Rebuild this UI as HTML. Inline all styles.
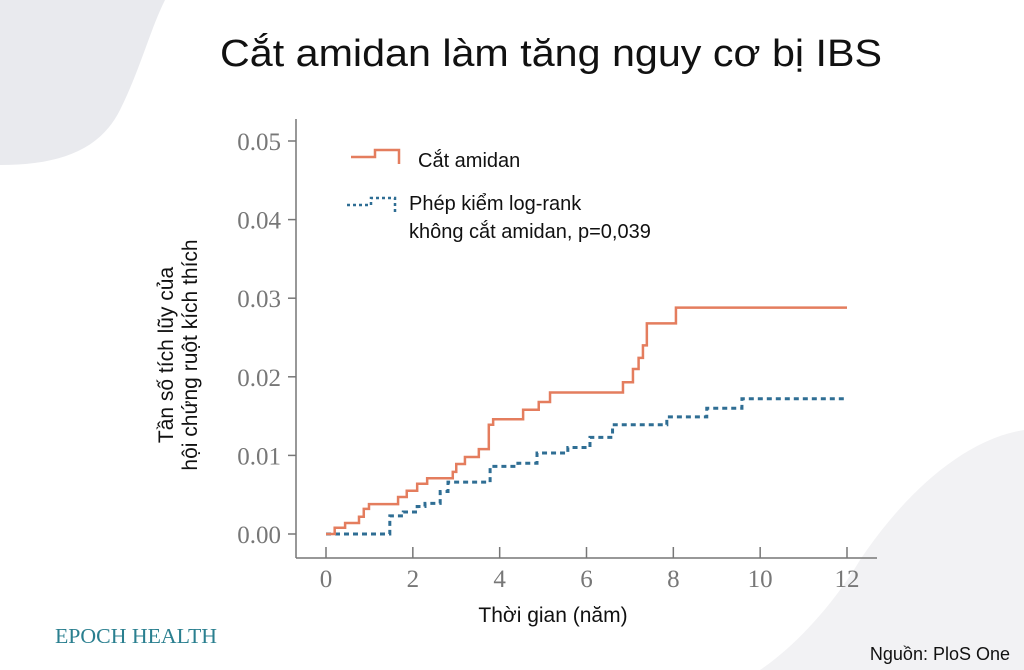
<!DOCTYPE html>
<html><head><meta charset="utf-8"><style>
body{margin:0;width:1024px;height:670px;overflow:hidden;background:#fff;font-family:"Liberation Sans",sans-serif}
svg{position:absolute;left:0;top:0}
</style></head><body>
<svg width="1024" height="670">
<path d="M0,0 L165,0 C150,30 140,70 120,110 C100,150 60,165 0,165 Z" fill="#e9eaee"/>
<path d="M1024,430 C960,440 900,500 860,560 C830,610 790,650 760,670 L1024,670 Z" fill="#f2f2f4"/>
<text x="220" y="66" textLength="662" lengthAdjust="spacingAndGlyphs" font-size="38" fill="#111">Cắt amidan làm tăng nguy cơ bị  IBS</text>
<g id="axes" stroke="#777" stroke-width="1.5" fill="none"></g>
<g id="ticks" font-family="Liberation Serif, serif" font-size="25" fill="#777"></g>
<g transform="translate(177,355) rotate(-90)" font-size="21" fill="#111" text-anchor="middle">
<text x="0" y="-4">Tần số  tích lũy của</text><text x="0" y="20">hội chứng ruột kích thích</text></g>
<text x="553" y="622" text-anchor="middle" font-size="21" fill="#111">Thời gian (năm)</text>
<g id="series"></g>
<path d="M351,157 L375,157 L375,150 L399,150 L399,164" stroke="#e47d5e" stroke-width="2.5" fill="none"/>
<text x="418" y="167" font-size="20" fill="#111">Cắt amidan</text>
<path d="M347,205 L371,205 L371,198 L395,198 L395,212" stroke="#2f6e94" stroke-width="2.5" stroke-dasharray="3,3" fill="none"/>
<text x="409" y="210" font-size="20" fill="#111">Phép kiểm  log-rank</text>
<text x="409" y="238" font-size="20" fill="#111">không cắt amidan, p=0,039</text>
<text x="55" y="643" textLength="162" lengthAdjust="spacingAndGlyphs" font-family="Liberation Serif, serif" font-size="21" fill="#2a7f8f">EPOCH HEALTH</text>
<text x="1010" y="660" text-anchor="end" font-size="18" fill="#111">Nguồn: PloS One</text>
</svg>
<script>
const xTicks=[0,2,4,6,8,10,12];
const yTicks=[0,0.01,0.02,0.03,0.04,0.05];
const yLabels=["0.00","0.01","0.02","0.03","0.04","0.05"];
const tonsilT=[0,0.2,0.44,0.76,0.87,0.99,1.66,1.86,2.1,2.33,2.92,3.0,3.2,3.52,3.75,3.85,4.54,4.9,5.16,6.84,7.07,7.2,7.3,7.39,8.06,12];
const tonsilV=[0,0.0008,0.0014,0.0022,0.0032,0.0038,0.0047,0.0055,0.0064,0.0071,0.0079,0.0089,0.0098,0.0108,0.0139,0.0146,0.0158,0.0168,0.018,0.0193,0.021,0.0224,0.024,0.0268,0.0288,0.0288];
const controlT=[0,1.13,1.47,1.78,2.1,2.28,2.63,2.81,3.78,4.42,4.86,5.57,6.08,6.6,7.85,8.77,9.58,12];
const controlV=[0,0,0.0023,0.0028,0.0035,0.0039,0.0054,0.0066,0.0086,0.009,0.0103,0.011,0.0123,0.0139,0.0149,0.016,0.0172,0.0172];
const X=t=>326+t*(847-326)/12, Y=v=>534-v*(534-141)/0.05;
const NS="http://www.w3.org/2000/svg";
function mk(tag,attrs,parent){const e=document.createElementNS(NS,tag);for(const k in attrs)e.setAttribute(k,attrs[k]);parent.appendChild(e);return e;}
const ax=document.getElementById('axes'),tk=document.getElementById('ticks'),se=document.getElementById('series');
let a=mk('line',{x1:296,y1:119,x2:296,y2:558},ax);


a=mk('line',{x1:296,y1:558,x2:877,y2:558},ax);


xTicks.forEach(t=>{const l=mk('line',{x1:X(t),y1:558,x2:X(t),y2:547},ax);


const s=mk('text',{x:X(t),y:587,'text-anchor':'middle'},tk);s.textContent=t;

});
yTicks.forEach((v,i)=>{const l=mk('line',{x1:288,y1:Y(v),x2:296,y2:Y(v)},ax);


const s=mk('text',{x:281,y:Y(v)+9,'text-anchor':'end'},tk);s.textContent=yLabels[i];

});
function step(T,V){let d='M'+X(T[0])+','+Y(V[0]);for(let i=1;i<T.length;i++){d+=' L'+X(T[i])+','+Y(V[i-1])+' L'+X(T[i])+','+Y(V[i]);}return d;}
let p=mk('path',{d:step(controlT,controlV),stroke:'#2f6e94','stroke-width':3,'stroke-dasharray':'5,4',fill:'none'},se);


p=mk('path',{d:step(tonsilT,tonsilV),stroke:'#e47d5e','stroke-width':2.5,fill:'none'},se);


</script>
</body></html>
